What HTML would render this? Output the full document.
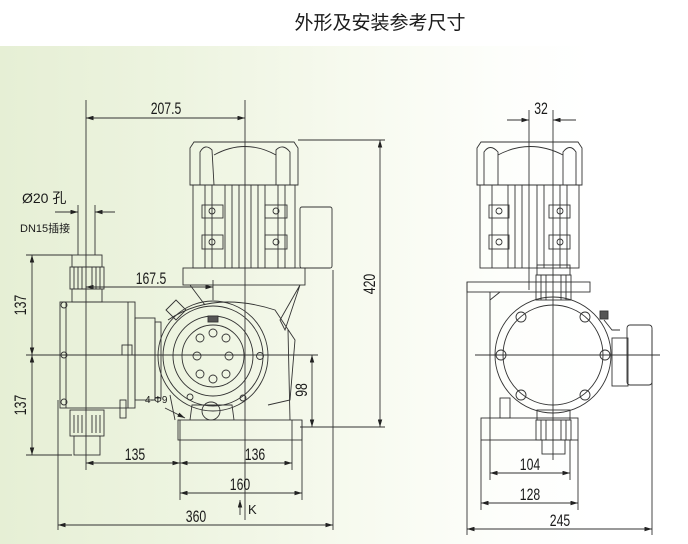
<!DOCTYPE html>
<html><head><meta charset="utf-8"><style>
html,body{margin:0;padding:0;width:688px;height:544px;overflow:hidden;background:#fff}
svg{display:block}
text{font-family:"Liberation Sans","Noto Sans CJK SC",sans-serif;fill:#1a1a1a}
</style></head><body>
<svg width="688" height="544" viewBox="0 0 688 544" xmlns="http://www.w3.org/2000/svg">
<defs>
<linearGradient id="bg" x1="0" x2="1" y1="0" y2="0">
<stop offset="0" stop-color="#e6efd5"/><stop offset="0.3" stop-color="#edf4e0"/><stop offset="0.6" stop-color="#f7faef"/><stop offset="0.85" stop-color="#fdfefb"/><stop offset="1" stop-color="#ffffff"/>
</linearGradient>
<marker id="a" viewBox="0 0 10 6" refX="10" refY="3" markerWidth="10" markerHeight="5" orient="auto-start-reverse"><path d="M0,0L10,3L0,6z" fill="#222"/></marker>
</defs>
<rect width="688" height="544" fill="#fff"/>
<rect x="0" y="46" width="592" height="498" fill="url(#bg)"/>
<text x="380" y="29" font-size="19" text-anchor="middle">外形及安装参考尺寸</text>

<g stroke="#333" stroke-width="0.9" fill="none">
<line x1="86" y1="100" x2="86" y2="470"/>
<line x1="245" y1="100" x2="245" y2="520"/>
<line x1="58" y1="400" x2="58" y2="530"/>
<line x1="333" y1="270" x2="333" y2="530"/>
<line x1="180" y1="420" x2="180" y2="500"/>
<line x1="292" y1="420" x2="292" y2="470"/>
<line x1="302" y1="420" x2="302" y2="500"/>
<line x1="298" y1="140" x2="385" y2="140"/>
<line x1="300" y1="427" x2="385" y2="427"/>
<line x1="26" y1="255" x2="72" y2="255"/>
<line x1="26" y1="455" x2="72" y2="455"/>
<line x1="26" y1="355" x2="318" y2="355"/>
<line x1="86" y1="118" x2="245" y2="118" marker-start="url(#a)" marker-end="url(#a)"/>
<line x1="86" y1="287" x2="213" y2="287" marker-start="url(#a)" marker-end="url(#a)"/>
<line x1="213" y1="280" x2="213" y2="300"/>
<line x1="55" y1="212" x2="78" y2="212" marker-end="url(#a)"/>
<line x1="115" y1="212" x2="95" y2="212" marker-end="url(#a)"/>
<line x1="32" y1="255" x2="32" y2="355" marker-start="url(#a)" marker-end="url(#a)"/>
<line x1="32" y1="355" x2="32" y2="455" marker-start="url(#a)" marker-end="url(#a)"/>
<line x1="312" y1="355" x2="312" y2="427" marker-start="url(#a)" marker-end="url(#a)"/>
<line x1="380" y1="140" x2="380" y2="427" marker-start="url(#a)" marker-end="url(#a)"/>
<line x1="86" y1="463" x2="180" y2="463" marker-start="url(#a)" marker-end="url(#a)"/>
<line x1="180" y1="463" x2="292" y2="463" marker-start="url(#a)" marker-end="url(#a)"/>
<line x1="180" y1="493" x2="302" y2="493" marker-start="url(#a)" marker-end="url(#a)"/>
<line x1="58" y1="525" x2="333" y2="525" marker-start="url(#a)" marker-end="url(#a)"/>
<line x1="240" y1="515" x2="240" y2="500" marker-end="url(#a)"/>
<line x1="165" y1="408" x2="185" y2="418" marker-end="url(#a)"/>
<line x1="78" y1="205" x2="78" y2="255"/><line x1="95" y1="205" x2="95" y2="255"/>
<path d="M194,142 L294,142 L298,148 L298,185 L190,185 L190,148 Z"/>
<path d="M200,185 L200,152 Q205,143 212,150 L214,185 M276,185 L276,150 Q283,143 290,152 L290,185 M214,155 Q245,138 276,155"/>
<rect x="193" y="185" width="102" height="83"/>
<path d="M205,185v83 M212,185v83 M225,185v83 M232,185v83 M239,185v83 M251,185v83 M258,185v83 M265,185v83 M278,185v83 M285,185v83"/>
<rect x="202" y="205" width="21" height="13"/><rect x="202" y="235" width="21" height="14"/>
<rect x="265" y="205" width="22" height="13"/><rect x="265" y="235" width="22" height="14"/>
<circle cx="212" cy="211" r="3"/><circle cx="212" cy="242" r="3"/><circle cx="276" cy="211" r="3"/><circle cx="276" cy="242" r="3"/>
<rect x="300" y="207" width="32" height="61" rx="2"/>
<rect x="183" y="268" width="122" height="17"/>
<path d="M190,285 L205,305 M300,285 L280,320 L285,330 L300,285 M288,330 L290,420"/>
<circle cx="213" cy="356" r="55"/><circle cx="213" cy="356" r="50"/>
<circle cx="213" cy="356" r="40"/><circle cx="213" cy="356" r="31"/>
<path d="M168,320 Q213,290 275,310 L295,340 L290,400 L268,405 M170,395 L175,420"/>
<circle cx="213" cy="333" r="4"/><circle cx="213" cy="379" r="4"/><circle cx="200" cy="338" r="4"/><circle cx="226" cy="338" r="4"/><circle cx="200" cy="374" r="4"/><circle cx="226" cy="374" r="4"/><circle cx="197" cy="356" r="4"/><circle cx="229" cy="356" r="4"/>
<rect x="208" y="316" width="10" height="6" fill="#555"/>
<circle cx="260" cy="356" r="3.5"/><circle cx="190" cy="397" r="3"/><circle cx="243" cy="398" r="3"/>
<circle cx="211" cy="411" r="9"/>
<path d="M166,310 L176,300 L186,310 L176,320 Z"/>
<rect x="178" y="420" width="124" height="20"/>
<path d="M190,420 L192,405 L232,405 L234,420"/>
<rect x="60" y="302" width="75" height="106"/>
<line x1="66" y1="302" x2="66" y2="408"/><line x1="128" y1="302" x2="128" y2="408"/>
<rect x="135" y="318" width="20" height="82"/><rect x="155" y="322" width="6" height="76"/>
<circle cx="64" cy="305" r="3"/><circle cx="64" cy="355" r="3"/><circle cx="64" cy="402" r="3"/>
<rect x="122" y="345" width="10" height="10"/>
<rect x="120" y="400" width="6" height="18"/>
<rect x="72" y="255" width="30" height="12"/><rect x="70" y="267" width="34" height="22"/><rect x="72" y="289" width="30" height="13"/>
<path d="M74,267v22 M78,267v22 M82,267v22 M92,267v22 M96,267v22 M100,267v22"/>
<rect x="70" y="410" width="34" height="26"/><rect x="74" y="436" width="26" height="19"/>
<path d="M74,415v18 M78,415v18 M82,415v18 M92,415v18 M96,415v18 M100,415v18"/>

<line x1="529" y1="110" x2="529" y2="290"/><line x1="553" y1="110" x2="553" y2="460"/>
<line x1="507" y1="120" x2="529" y2="120" marker-end="url(#a)"/>
<line x1="576" y1="120" x2="553" y2="120" marker-end="url(#a)"/>
<line x1="475" y1="355" x2="660" y2="355"/>
<path d="M481,142 L578,142 L582,148 L582,185 L477,185 L477,148 Z"/>
<path d="M484,185 L484,152 Q490,143 498,152 L498,185 M563,185 L563,152 Q570,143 576,152 L576,185 M498,155 Q530,138 563,155"/>
<rect x="480" y="185" width="99" height="83"/>
<path d="M492,185v83 M508,185v83 M515,185v83 M522,185v83 M537,185v83 M544,185v83 M560,185v83 M567,185v83"/>
<rect x="489" y="205" width="20" height="13"/><rect x="489" y="235" width="20" height="14"/>
<rect x="549" y="205" width="21" height="13"/><rect x="549" y="235" width="21" height="14"/>
<circle cx="499" cy="211" r="3"/><circle cx="499" cy="242" r="3"/><circle cx="560" cy="211" r="3"/><circle cx="560" cy="242" r="3"/>
<rect x="467" y="282" width="123" height="10"/>
<line x1="467" y1="282" x2="467" y2="535"/><line x1="652" y1="330" x2="652" y2="535"/>
<path d="M490,292 L490,440 M490,300 L500,292"/>
<rect x="537" y="265" width="33" height="10"/><rect x="536" y="275" width="35" height="25"/>
<path d="M541,275v25 M546,275v25 M561,275v25 M566,275v25"/>
<circle cx="553" cy="355" r="58"/><circle cx="553" cy="355" r="50"/>
<circle cx="521" cy="317" r="5"/><circle cx="585" cy="317" r="5"/><circle cx="501" cy="355" r="5"/><circle cx="605" cy="355" r="5"/><circle cx="521" cy="395" r="5"/><circle cx="585" cy="395" r="5"/>
<rect x="600" y="311" width="8" height="8" fill="#555"/>
<path d="M604,320 L612,330 L620,330"/>
<rect x="612" y="338" width="16" height="48"/>
<rect x="627" y="325" width="25" height="60" rx="3"/>
<rect x="481" y="418" width="97" height="22"/>
<rect x="500" y="398" width="10" height="20"/>
<rect x="537" y="410" width="33" height="10"/><rect x="536" y="420" width="35" height="20"/><rect x="542" y="440" width="23" height="14"/>
<path d="M541,420v20 M546,420v20 M561,420v20 M566,420v20"/>
<line x1="490" y1="440" x2="490" y2="480"/><line x1="570" y1="440" x2="570" y2="480"/>
<line x1="481" y1="440" x2="481" y2="510"/><line x1="578" y1="440" x2="578" y2="510"/>
<line x1="490" y1="473" x2="570" y2="473" marker-start="url(#a)" marker-end="url(#a)"/>
<line x1="481" y1="503" x2="578" y2="503" marker-start="url(#a)" marker-end="url(#a)"/>
<line x1="467" y1="529" x2="652" y2="529" marker-start="url(#a)" marker-end="url(#a)"/>
</g>

<g font-size="17" text-anchor="middle">
<text transform="translate(166,114) scale(0.72,1)">207.5</text>
<text transform="translate(151,284) scale(0.72,1)">167.5</text>
<text transform="translate(135,460) scale(0.72,1)">135</text>
<text transform="translate(255,460) scale(0.72,1)">136</text>
<text transform="translate(240,490) scale(0.72,1)">160</text>
<text transform="translate(196,522) scale(0.72,1)">360</text>
<text transform="translate(541,114) scale(0.72,1)">32</text>
<text transform="translate(530,470) scale(0.72,1)">104</text>
<text transform="translate(530,500) scale(0.72,1)">128</text>
<text transform="translate(560,526) scale(0.72,1)">245</text>
<text transform="translate(26,305) rotate(-90) scale(0.72,1)">137</text>
<text transform="translate(26,405) rotate(-90) scale(0.72,1)">137</text>
<text transform="translate(307,390) rotate(-90) scale(0.72,1)">98</text>
<text transform="translate(375,284) rotate(-90) scale(0.72,1)">420</text>
</g>
<text x="22" y="203" font-size="14">Ø20 孔</text>
<text x="248" y="514" font-size="13">K</text>
<text x="20" y="232" font-size="11" font-family="Liberation Serif,Noto Serif CJK SC,serif">DN15插接</text>
<text x="145" y="403" font-size="10">4-Φ9</text>
</svg>
</body></html>
